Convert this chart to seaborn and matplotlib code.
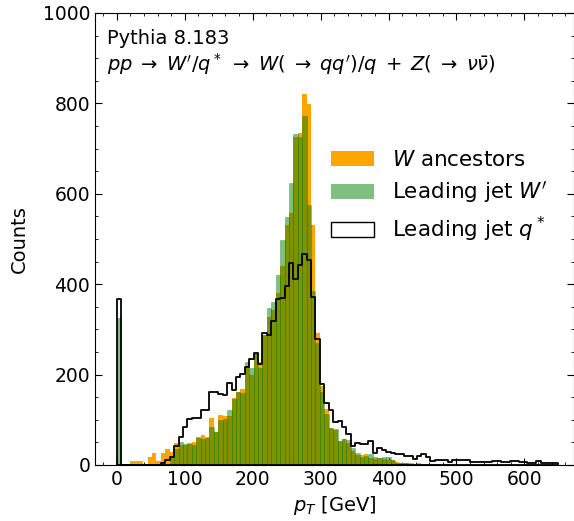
import numpy as np
import pandas as pd
import seaborn as sns
import matplotlib
matplotlib.use("Agg")
from matplotlib import pyplot as plt
from matplotlib.patches import Patch
from matplotlib.ticker import MultipleLocator, AutoMinorLocator

# 100 bins of 6.5 GeV between 0 and 650 GeV
bin_edges = np.linspace(0, 650, 101)
bin_centers = 0.5 * (bin_edges[:-1] + bin_edges[1:])

# counts per bin
w_ancestors = [
    0, 2, 2, 9, 9, 9, 2, 18, 27, 9,
    27, 35, 29, 48, 44, 44, 48, 51, 61, 66,
    62, 105, 74, 110, 109, 108, 149, 161, 168, 216,
    199, 246, 227, 288, 327, 343, 380, 440, 532, 557,
    725, 735, 821, 799, 532, 291, 175, 124, 82, 78,
    53, 57, 49, 32, 23, 22, 24, 16, 13, 15,
    13, 10, 11, 6, 5, 4, 3, 3, 5, 3,
    2, 2, 1, 2, 1, 1, 1, 0, 1, 1,
    1, 0, 1, 0, 1, 0, 0, 1, 0, 0,
    1, 0, 0, 0, 0, 0, 0, 0, 0, 0,
]
jet_wprime = [
    326, 0, 0, 0, 0, 0, 0, 0, 0, 0,
    0, 0, 15, 35, 50, 46, 46, 44, 59, 57,
    60, 83, 74, 100, 101, 122, 147, 161, 159, 228,
    214, 248, 215, 288, 348, 361, 420, 498, 548, 623,
    732, 725, 772, 575, 385, 269, 162, 113, 81, 79,
    52, 57, 55, 37, 27, 18, 20, 24, 17, 15,
    18, 18, 11, 5, 4, 4, 4, 3, 3, 3,
    2, 2, 2, 1, 2, 1, 1, 1, 1, 1,
    0, 1, 1, 0, 1, 0, 0, 1, 0, 0,
    1, 0, 0, 0, 0, 0, 0, 0, 0, 0,
]
jet_qstar = [
    367, 0, 0, 0, 0, 0, 0, 0, 0, 0,
    5, 10, 18, 41, 61, 83, 101, 105, 105, 122,
    122, 162, 162, 156, 155, 181, 166, 194, 201, 217,
    235, 248, 224, 291, 287, 318, 367, 369, 397, 446,
    411, 442, 466, 454, 371, 279, 179, 138, 121, 95,
    98, 85, 69, 43, 48, 46, 46, 52, 26, 37,
    34, 29, 27, 24, 25, 21, 19, 13, 20, 24,
    17, 8, 12, 11, 11, 7, 11, 10, 12, 12,
    7, 6, 6, 6, 6, 9, 9, 6, 6, 9,
    9, 7, 7, 5, 4, 9, 4, 4, 4, 4,
]

df = pd.DataFrame({
    "pt": bin_centers,
    "w_anc": w_ancestors,
    "jet_w": jet_wprime,
    "jet_q": jet_qstar,
})
bins = bin_edges.tolist()

sns.set_style("ticks")
plt.rcParams["font.family"] = ["DejaVu Sans"]
plt.rcParams["mathtext.fontset"] = "dejavusans"
for key in ["text.color", "axes.labelcolor", "xtick.color", "ytick.color", "axes.edgecolor"]:
    plt.rcParams[key] = "black"

fig = plt.figure(figsize=(5.74, 5.21), dpi=100)
ax = fig.add_axes([0.1655, 0.1075, 0.8345, 0.8676])

sns.histplot(data=df, x="pt", weights="w_anc", bins=bins, element="bars",
             color="orange", alpha=1.0, linewidth=0, ax=ax)
sns.histplot(data=df, x="pt", weights="jet_w", bins=bins, element="bars",
             color="green", alpha=0.5, edgecolor=(0, 0.45, 0, 0.4), linewidth=0.5, ax=ax)
sns.histplot(data=df, x="pt", weights="jet_q", bins=bins, element="step",
             fill=True, color="black", facecolor="none", edgecolor="black",
             linewidth=1.3, ax=ax)

ax.set_xlim(-32, 673)
ax.set_ylim(0, 1000)
ax.xaxis.set_major_locator(MultipleLocator(100))
ax.xaxis.set_minor_locator(AutoMinorLocator(5))
ax.yaxis.set_major_locator(MultipleLocator(200))
ax.yaxis.set_minor_locator(AutoMinorLocator(4))
ax.tick_params(which="both", direction="in", top=True, right=True, labelsize=13.5)
ax.tick_params(which="major", length=5)
ax.tick_params(which="minor", length=2.5)

ax.set_xlabel("$p_T$ [GeV]", fontsize=14)
ax.set_ylabel("Counts", fontsize=14, labelpad=10)

ax.text(0.025, 0.965,
        "Pythia 8.183\n"
        r"$pp\;\rightarrow\;W'/q^*\;\rightarrow\;W(\;\rightarrow\;qq')/q\;+\;Z(\;\rightarrow\;\nu\bar{\nu})$",
        transform=ax.transAxes, ha="left", va="top", fontsize=14, linespacing=1.15)

handles = [
    Patch(facecolor="orange", edgecolor="none"),
    Patch(facecolor="green", alpha=0.5, edgecolor="none"),
    Patch(facecolor="none", edgecolor="black"),
]
labels = ["$W$ ancestors", "Leading jet $W'$", "Leading jet $q^*$"]
ax.legend(handles, labels, loc="center left", bbox_to_anchor=(0.453, 0.593),
          frameon=False, fontsize=15.5, labelspacing=0.45)

fig.savefig("out.png", dpi=100)
